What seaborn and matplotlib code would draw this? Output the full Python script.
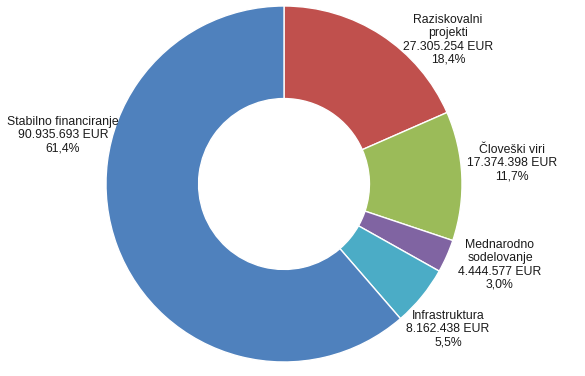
import matplotlib
matplotlib.use("Agg")
import matplotlib.pyplot as plt
import seaborn as sns

sns.set_theme(style="white")
plt.rcParams["font.family"] = ["Liberation Sans", "DejaVu Sans"]

categories = ["Raziskovalni\nprojekti", "Človeški viri", "Mednarodno\nsodelovanje",
              "Infrastruktura", "Stabilno financiranje"]
amounts = [27305254, 17374398, 4444577, 8162438, 90935693]
percent_labels = ["18,4%", "11,7%", "3,0%", "5,5%", "61,4%"]
colors = ["#C0504D", "#9BBB59", "#8064A2", "#4BACC6", "#4F81BD"]

# label centres in pixels (x from left, y from top)
label_pos = [(448, 40), (512, 163), (500, 265), (448, 329), (63, 135)]

W, H = 585, 376
fig = plt.figure(figsize=(W / 100, H / 100), dpi=100)
cx, cy, r = 284, 184, 178
ax = fig.add_axes([(cx - r) / W, (H - cy - r) / H, 2 * r / W, 2 * r / H])

ax.pie(amounts, colors=colors, startangle=90, counterclock=False, radius=1,
       wedgeprops=dict(width=0.52, edgecolor="white", linewidth=1.0))
ax.set_xlim(-1, 1)
ax.set_ylim(-1, 1)
ax.set_aspect("equal")
ax.axis("off")


def fmt_eur(v):
    return f"{v:,}".replace(",", ".") + " EUR"


for name, v, p, (px, py) in zip(categories, amounts, percent_labels, label_pos):
    fig.text(px / W, 1 - py / H, f"{name}\n{fmt_eur(v)}\n{p}",
             ha="center", va="center", fontsize=8.8, linespacing=1.12,
             color="#1a1a1a")

fig.savefig("out.png", dpi=100, facecolor="white")
